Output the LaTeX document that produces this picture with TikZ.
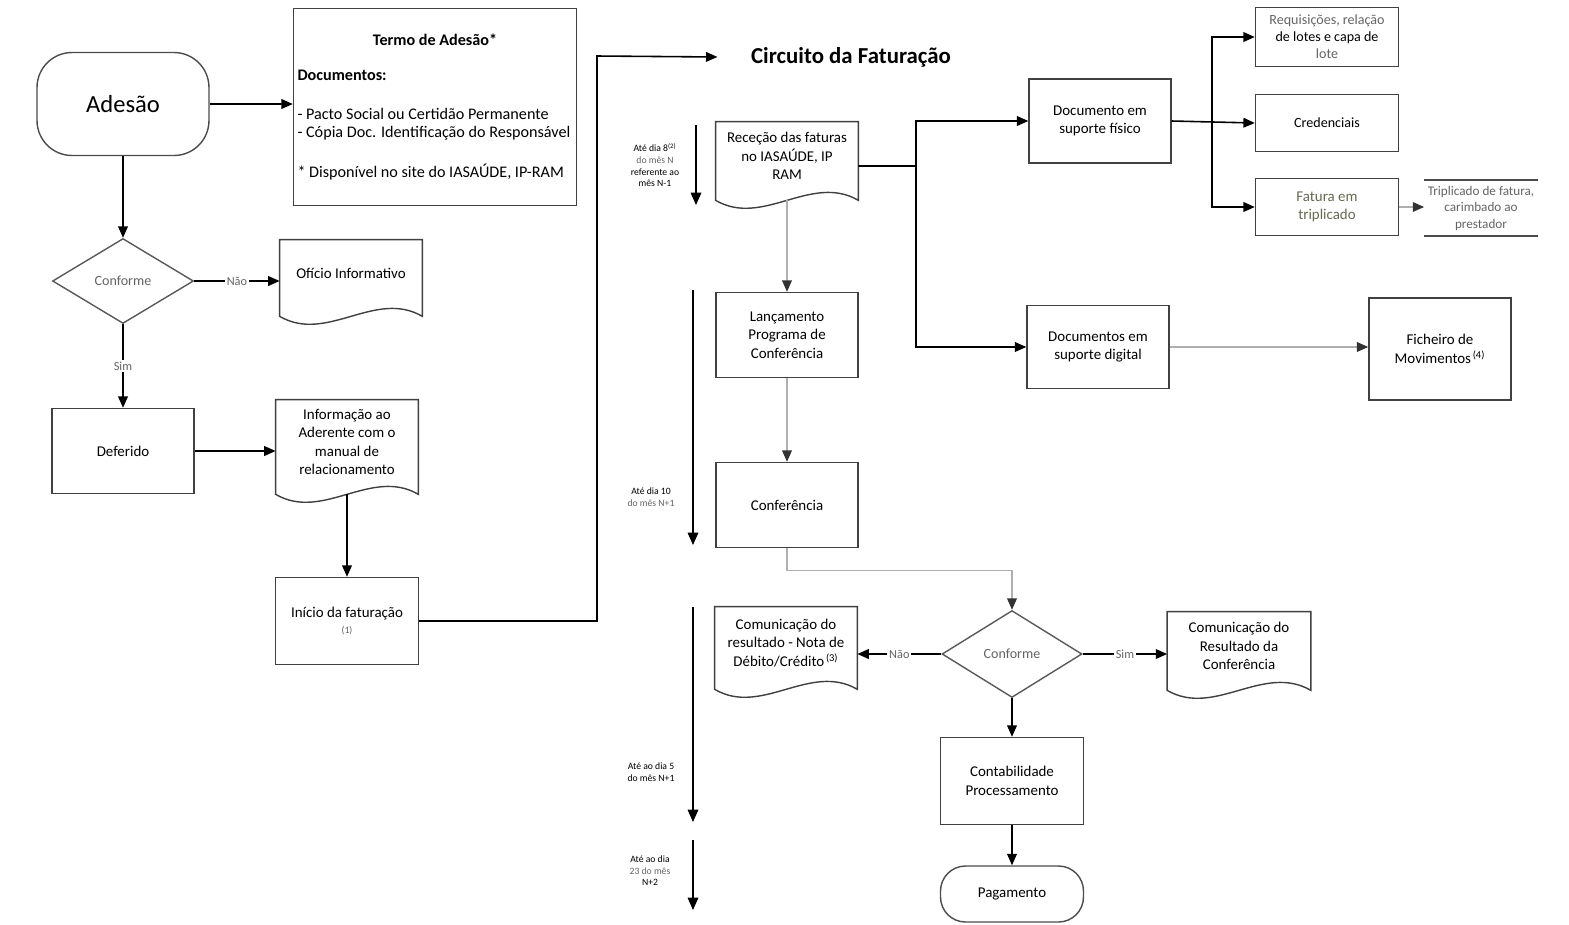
\documentclass[tikz,border=0pt]{standalone}
\usepackage{fontspec}
\setmainfont{Carlito}
\usepackage{tikz}
\usetikzlibrary{arrows.meta, positioning, shapes.geometric, calc}
\definecolor{LinhaCinza}{RGB}{175,175,175}
\definecolor{TextoCinza}{RGB}{100,100,100}
\definecolor{TextoOliva}{RGB}{100,105,80}

% contorno de documento (fundo ondulado) a partir de um no
\newcommand{\docwave}[1]{%
  \draw[draw=black!75, line width=0.8pt] (#1.north west) -- ([yshift=-0.2cm]#1.south west)
    .. controls ($([yshift=-0.2cm]#1.south west)!0.33!([yshift=-0.2cm]#1.south east)+(0cm,-0.55cm)$)
    and ($([yshift=-0.2cm]#1.south west)!0.67!([yshift=-0.2cm]#1.south east)+(0cm,0.55cm)$)
    .. ([yshift=-0.2cm]#1.south east) -- (#1.north east) -- cycle;}

\begin{document}
\begin{tikzpicture}[x=0.02cm, y=-0.02cm,
    caixa/.style={draw=black!75, line width=0.8pt, minimum width=2.84cm, minimum height=1.7cm, align=center, inner sep=2pt, font=\fontsize{8.5}{10.5}\selectfont},
    documento/.style={minimum width=2.84cm, align=center, inner sep=2pt, font=\fontsize{8.5}{10.5}\selectfont},
    decisao/.style={diamond, draw=black!65, line width=0.8pt, aspect=1.7, minimum width=2.82cm, minimum height=1.7cm, inner sep=1pt, font=\fontsize{8}{9}\selectfont, text=TextoCinza},
    terminal/.style={draw=black!70, line width=0.8pt, minimum width=2.86cm, align=center},
    seta/.style={line width=0.9pt, -{Triangle[length=6.5pt,width=5.5pt]}},
    setaclara/.style={line width=0.8pt, draw=LinhaCinza, -{Triangle[length=6.5pt,width=5.5pt,color=black!80]}},
    linha/.style={line width=0.9pt},
    tempo/.style={line width=0.8pt, -{Triangle[length=7pt,width=6pt]}},
    nota/.style={font=\fontsize{5.5}{6.6}\selectfont, align=center},
    rotulo/.style={fill=white, inner sep=1pt, font=\fontsize{7}{8}\selectfont, text=TextoCinza}
  ]
  \useasboundingbox (0,0) rectangle (1569,924);

  % Adesao
  \node[terminal, minimum width=3.44cm, minimum height=2.06cm, rounded corners=0.7cm, font=\fontsize{14}{16}\selectfont] (adesao) at (123,104) {Adesão};
  \node[draw=black!75, line width=0.8pt, minimum width=5.66cm, minimum height=3.94cm, text width=5.5cm, inner xsep=0.08cm, align=flush left, font=\fontsize{9.2}{9.8}\selectfont] (termo) at (435,107)
    {\makebox[5.5cm]{\bfseries Termo de Adesão*}\\[10pt]
     {\bfseries Documentos:}\\[12.5pt]
     - Pacto Social ou Certidão Permanente\\
     - Cópia Doc. Identificação do Responsável\\[13pt]
     * Disponível no site do IASAÚDE, IP-RAM};
  \node[decisao] (conforme1) at (123,281) {Conforme};
  \node[documento, minimum height=1.32cm] (oficio) at (351,273) {Ofício Informativo};
  \node[caixa] (deferido) at (123,451) {Deferido};
  \node[documento, minimum height=1.68cm] (informacao) at (347,442) {Informação ao\\Aderente com o\\manual de\\relacionamento};
  \node[caixa, minimum width=2.86cm, minimum height=1.74cm] (inicio) at (347,621) {Início da faturação\\[-1pt]{\fontsize{5.5}{6}\selectfont\color{TextoCinza}(1)}};
  \docwave{oficio}
  \docwave{informacao}

  \draw[seta] (adesao.east) -- (adesao.east -| termo.west);
  \draw[seta] (adesao.south) -- (conforme1.north);
  \draw[seta] (conforme1.east) -- node[rotulo] {Não} (conforme1.east -| oficio.west);
  \draw[seta] (conforme1.south) -- node[rotulo] {Sim} (deferido.north);
  \draw[seta] (deferido.east) -- (deferido.east -| informacao.west);
  \draw[seta] ([yshift=-0.2cm]informacao.south) -- (inicio.north);

  % Circuito da Faturacao
  \node[font=\fontsize{13}{15}\selectfont\bfseries] (titulo) at (851,57) {Circuito da Faturação};
  \coordinate (c1) at (597,56);
  \draw[seta] (inicio.east) -| (c1) -- ([xshift=-0.55cm]titulo.west);

  \node[documento, minimum height=1.36cm] (rececao) at (787,156) {Receção das faturas\\no IASAÚDE, IP\\RAM};
  \node[caixa, minimum height=1.68cm] (fisico) at (1100,121) {Documento em\\suporte físico};
  \node[caixa, minimum height=1.66cm] (digital) at (1098,347) {Documentos em\\suporte digital};
  \node[caixa, minimum width=2.86cm, minimum height=1.18cm, font=\fontsize{8}{9.6}\selectfont] (requisicoes) at (1327,37) {{\color{TextoCinza}Requisições, relação}\\de lotes e capa de\\{\color{TextoCinza}lote}};
  \node[caixa, minimum width=2.86cm, minimum height=1.14cm, font=\fontsize{8}{9.6}\selectfont] (credenciais) at (1327,123) {Credenciais};
  \node[caixa, minimum width=2.86cm, minimum height=1.14cm, text=TextoOliva] (fatura) at (1327,207) {Fatura em\\triplicado};
  \node[minimum width=2.26cm, minimum height=1.1cm, align=center, inner sep=1pt, text=TextoCinza, font=\fontsize{7.5}{9.4}\selectfont] (triplicado) at (1481,208) {Triplicado de fatura,\\carimbado ao\\prestador};
  \draw[line width=0.8pt, black!70] (triplicado.north west) -- (triplicado.north east);
  \draw[line width=0.8pt, black!70] (triplicado.south west) -- (triplicado.south east);
  \node[caixa, minimum height=2.04cm] (ficheiro) at (1440,349) {Ficheiro de\\Movimentos\textsuperscript{\,(4)}};
  \docwave{rececao}

  \coordinate (b1) at (916,166);
  \draw[linha] ([yshift=-0.2cm]rececao.east) -- (b1);
  \draw[seta] (b1) |- (fisico.west);
  \draw[seta] (b1) |- (digital.west);
  \coordinate (b2) at (1212,123);
  \draw[seta] (fisico.east) -- (credenciais.west);
  \draw[seta] (b2) |- (requisicoes.west);
  \draw[seta] (b2) |- (fatura.west);
  \draw[setaclara] (fatura.east) -- (fatura.east -| triplicado.west);
  \draw[setaclara] (digital.east) -- (digital.east -| ficheiro.west);

  % Conferencia
  \node[caixa] (lancamento) at (787,335) {Lançamento\\Programa de\\Conferência};
  \node[caixa] (conferencia) at (787,505) {Conferência};
  \node[decisao, minimum width=2.8cm, minimum height=1.74cm] (conforme2) at (1012,654) {Conforme};
  \node[documento, minimum height=1.44cm] (comunicacao1) at (786,643) {Comunicação do\\resultado - Nota de\\Débito/Crédito\textsuperscript{\,(3)}};
  \node[documento, minimum width=2.86cm, minimum height=1.36cm] (comunicacao2) at (1239,646) {Comunicação do\\Resultado da\\Conferência};
  \node[caixa, minimum width=2.86cm, minimum height=1.74cm] (contabilidade) at (1012,781) {Contabilidade\\Processamento};
  \node[terminal, minimum height=1.12cm, rounded corners=0.5cm, font=\fontsize{8.5}{10}\selectfont] (pagamento) at (1012,894) {Pagamento};
  \docwave{comunicacao1}
  \docwave{comunicacao2}

  \draw[setaclara] ([yshift=-0.2cm]rececao.south) -- (lancamento.north);
  \draw[setaclara] (lancamento.south) -- (conferencia.north);
  \draw[setaclara] (conferencia.south) -- ++(0,22) -| (conforme2.north);
  \draw[seta] (conforme2.west) -- node[rotulo] {Não} (conforme2.west -| comunicacao1.east);
  \draw[seta] (conforme2.east) -- node[rotulo] {Sim} (conforme2.east -| comunicacao2.west);
  \draw[seta] (conforme2.south) -- (contabilidade.north);
  \draw[seta] (contabilidade.south) -- (pagamento.north);

  % Prazos
  \coordinate (t1s) at (696,125);
  \coordinate (t1e) at (696,205);
  \coordinate (t2s) at (693,290);
  \coordinate (t2e) at (693,545);
  \coordinate (t3s) at (693,607);
  \coordinate (t3e) at (693,822);
  \coordinate (t4s) at (693,840);
  \coordinate (t4e) at (693,910);
  \draw[tempo] (t1s) -- (t1e);
  \draw[tempo] (t2s) -- (t2e);
  \draw[tempo] (t3s) -- (t3e);
  \draw[tempo] (t4s) -- (t4e);
  \node[nota] (prazo1) at (655,165) {Até dia 8\textsuperscript{(2)}\\{\color{TextoCinza}do mês N}\\referente ao\\mês N-1};
  \node[nota] (prazo2) at (651,497) {Até dia 10\\{\color{TextoCinza}do mês N+1}};
  \node[nota] (prazo3) at (651,772) {Até ao dia 5\\do mês N+1};
  \node[nota] (prazo4) at (650,871) {Até ao dia\\{\color{TextoCinza}23 do mês}\\N+2};
\end{tikzpicture}
\end{document}
